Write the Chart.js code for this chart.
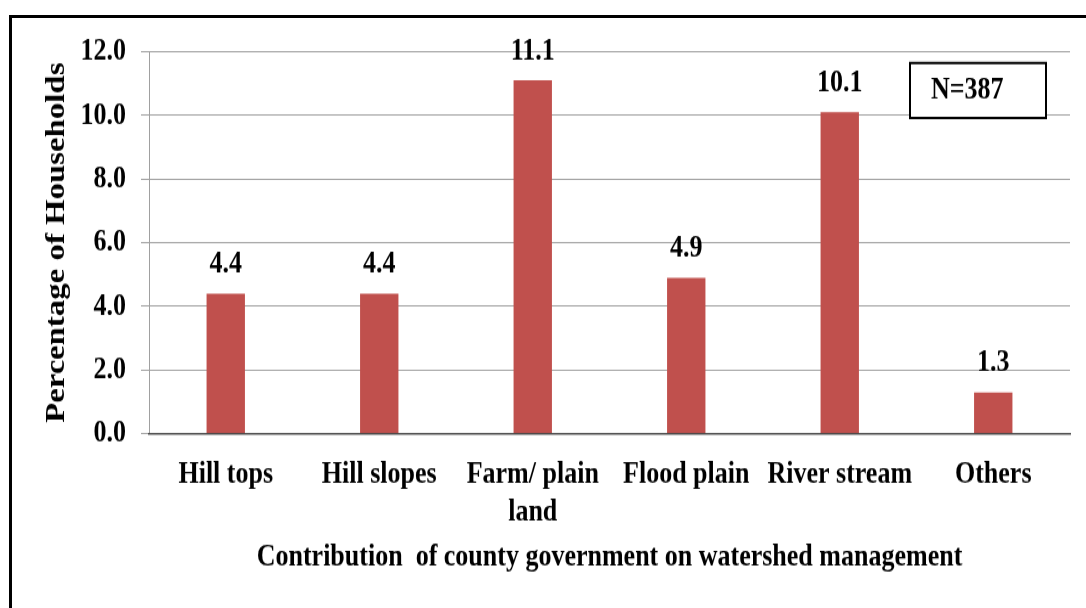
<!DOCTYPE html>
<html>
<head>
<meta charset="utf-8">
<title>Contribution of county government on watershed management</title>
<script src="https://cdn.jsdelivr.net/npm/chart.js@4"></script>
<style>
  html, body { margin: 0; padding: 0; background: #fff; width: 1086px; height: 608px; overflow: hidden; }
  #frame { position: absolute; left: 9px; top: 15px; width: 1200px; height: 700px;
           border-left: 3px solid #000; border-top: 3px solid #000; box-sizing: border-box; }
  /* the figure is drawn at 500px tall and stretched to the full 608px height */
  #wrap { position: absolute; left: 0; top: 0; width: 1086px; height: 500px;
          transform: scaleY(1.216); transform-origin: 0 0; }
</style>
</head>
<body>
<div id="frame"></div>
<div id="wrap"><canvas id="c" width="1086" height="500"></canvas></div>
<script>
// Data
const categories = ['Hill tops', 'Hill slopes', ['Farm/ plain', 'land'], 'Flood plain', 'River stream', 'Others'];
const households = [4.4, 4.4, 11.1, 4.9, 10.1, 1.3];
const yTickValues = [0, 2, 4, 6, 8, 10, 12];
const sampleNote = 'N=387';
const xTitle = 'Contribution  of county government on watershed management';
const yTitle = 'Percentage of Households';

const FONT = "'Liberation Serif', 'Times New Roman', serif";
Chart.defaults.font.family = FONT;
Chart.defaults.color = '#000';

// Value printed above each bar
const valueLabels = {
  id: 'valueLabels',
  afterDatasetsDraw(chart) {
    const ctx = chart.ctx;
    const meta = chart.getDatasetMeta(0);
    ctx.save();
    ctx.font = 'bold 26px ' + FONT;
    ctx.fillStyle = '#000';
    ctx.textAlign = 'center';
    ctx.textBaseline = 'alphabetic';
    meta.data.forEach((bar, i) => {
      ctx.fillText(households[i].toFixed(1), bar.x, bar.y - 17.5);
    });
    ctx.restore();
  }
};

// Sample size box in the upper right corner of the plot
const noteBox = {
  id: 'noteBox',
  afterDraw(chart) {
    const ctx = chart.ctx;
    const right = chart.chartArea.right - 24;
    const w = 136, h = 45.2, top = 51.8;
    const left = right - w;
    ctx.save();
    ctx.fillStyle = '#fff';
    ctx.fillRect(left, top, w, h);
    ctx.strokeStyle = '#000';
    ctx.lineWidth = 2;
    ctx.strokeRect(left, top, w, h);
    ctx.font = 'bold 26px ' + FONT;
    ctx.fillStyle = '#000';
    ctx.textAlign = 'left';
    ctx.textBaseline = 'middle';
    ctx.fillText(sampleNote, left + 21, top + 22.5);
    ctx.restore();
  }
};

new Chart(document.getElementById('c'), {
  type: 'bar',
  data: {
    labels: categories,
    datasets: [{
      data: households,
      backgroundColor: '#C0504D',
      borderWidth: 0,
      barPercentage: 0.25,
      categoryPercentage: 1.0
    }]
  },
  options: {
    responsive: false,
    animation: false,
    devicePixelRatio: 1,
    layout: { padding: { top: 42.5, right: 16, bottom: 0, left: 0 } },
    plugins: {
      legend: { display: false },
      tooltip: { enabled: false }
    },
    scales: {
      x: {
        grid: { display: false, drawTicks: false },
        border: { display: true, color: '#4a4a4a', width: 1.5, z: 1 },
        ticks: {
          font: { size: 26, weight: 'bold' },
          color: '#000',
          padding: 17.8,
          maxRotation: 0,
          minRotation: 0,
          autoSkip: false
        },
        title: {
          display: true,
          text: xTitle,
          font: { size: 26, weight: 'bold' },
          color: '#000',
          padding: { top: 0, bottom: 26 }
        },
        afterFit(scale) { scale.height = 143.3; }
      },
      y: {
        min: 0,
        max: 12,
        afterBuildTicks(scale) { scale.ticks = yTickValues.map(v => ({ value: v })); },
        grid: { color: '#a0a0a0', lineWidth: 1, tickLength: 8, drawTicks: true },
        border: { display: true, color: '#a0a0a0', width: 1 },
        ticks: {
          font: { size: 26, weight: 'bold' },
          color: '#000',
          padding: 15,
          callback: v => Number(v).toFixed(1)
        },
        title: {
          display: true,
          text: yTitle,
          font: { size: 27, weight: 'bold' },
          color: '#000',
          padding: { top: 40.8, bottom: 0 }
        },
        afterFit(scale) { scale.width = 149; }
      }
    }
  },
  plugins: [valueLabels, noteBox]
});
</script>
</body>
</html>
